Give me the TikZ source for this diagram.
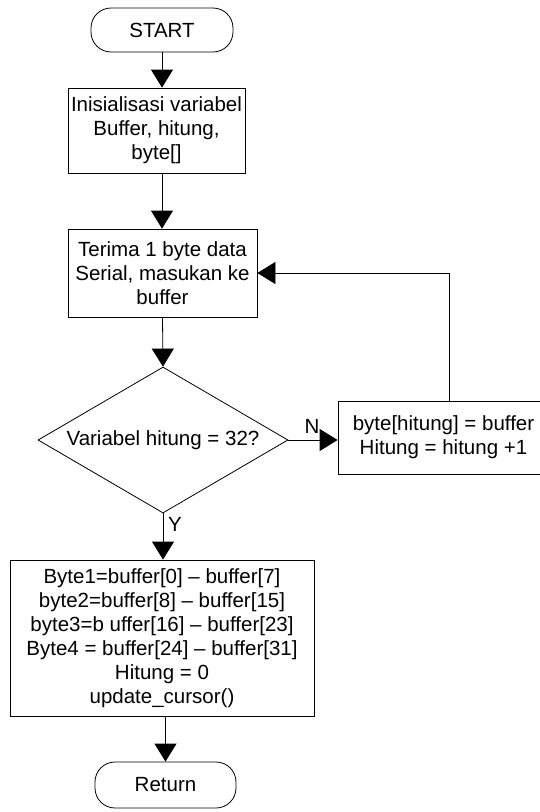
\documentclass[tikz,border=0pt]{standalone}
\usepackage{fontspec}
\setmainfont{Liberation Sans}
\usetikzlibrary{shapes.geometric,arrows.meta}

\tikzset{
  base/.style={draw, line width=0.8pt, align=center, inner sep=0pt,
    font=\fontsize{20.5}{24}\selectfont},
  terminal/.style={base, rounded corners=20pt},
  process/.style={base, rectangle},
  decision/.style={base, diamond, aspect=1.7},
  flow/.style={line width=0.8pt, -{Triangle[length=18pt,width=22pt]}},
  lbl/.style={font=\fontsize{20.5}{24}\selectfont, inner sep=0pt}
}

\begin{document}
\begin{tikzpicture}[x=1pt,y=-1pt]
  \useasboundingbox (0,0) rectangle (540,812);

  % nodes of the flow
  \node[terminal, minimum width=142pt, minimum height=44pt] (start) at (162,30) {START};
  \node[process, minimum width=177pt, minimum height=85pt] (init) at (156.5,130.5)
    {Inisialisasi variabel\\Buffer, hitung,\\byte[]};
  \node[process, minimum width=189pt, minimum height=88pt] (recv) at (162.5,273)
    {Terima 1 byte data\\Serial, masukan ke\\buffer};
  \node[decision, minimum width=250pt, minimum height=146pt] (dec) at (163,440)
    {Variabel hitung = 32?};
  \node[process, minimum width=211pt, minimum height=73pt] (upd) at (443.5,437.5)
    {byte[hitung] = buffer\\Hitung = hitung +1};
  \node[process, minimum width=304pt, minimum height=156pt] (fin) at (162,638)
    {Byte1=buffer[0] -- buffer[7]\\byte2=buffer[8] -- buffer[15]\\byte3=b uffer[16] -- buffer[23]\\Byte4 = buffer[24] -- buffer[31]\\Hitung = 0\\update\_cursor()};
  \node[terminal, minimum width=141pt, minimum height=46pt] (ret) at (165.5,785) {Return};

  % connectors
  \draw[flow] (start.south) -- (start.south |- init.north);
  \draw[flow] ([xshift=5.5pt]init.south) -- ([xshift=5.5pt]init.south |- recv.north);
  \draw[flow] (recv.south) -- (dec.north);
  \draw[flow] (dec.east) -- (dec.east -| upd.west);
  \draw[flow] ([xshift=5.5pt]upd.north) |- (recv.east);
  \draw[flow] (dec.south) -- (dec.south |- fin.north);
  \draw[flow] ([xshift=3.5pt]fin.south) -- ([xshift=3.5pt]fin.south |- ret.north);

  % branch labels
  \node[lbl] (nlab) at (312,426) {N};
  \node[lbl] (ylab) at (175,524) {Y};
\end{tikzpicture}
\end{document}
